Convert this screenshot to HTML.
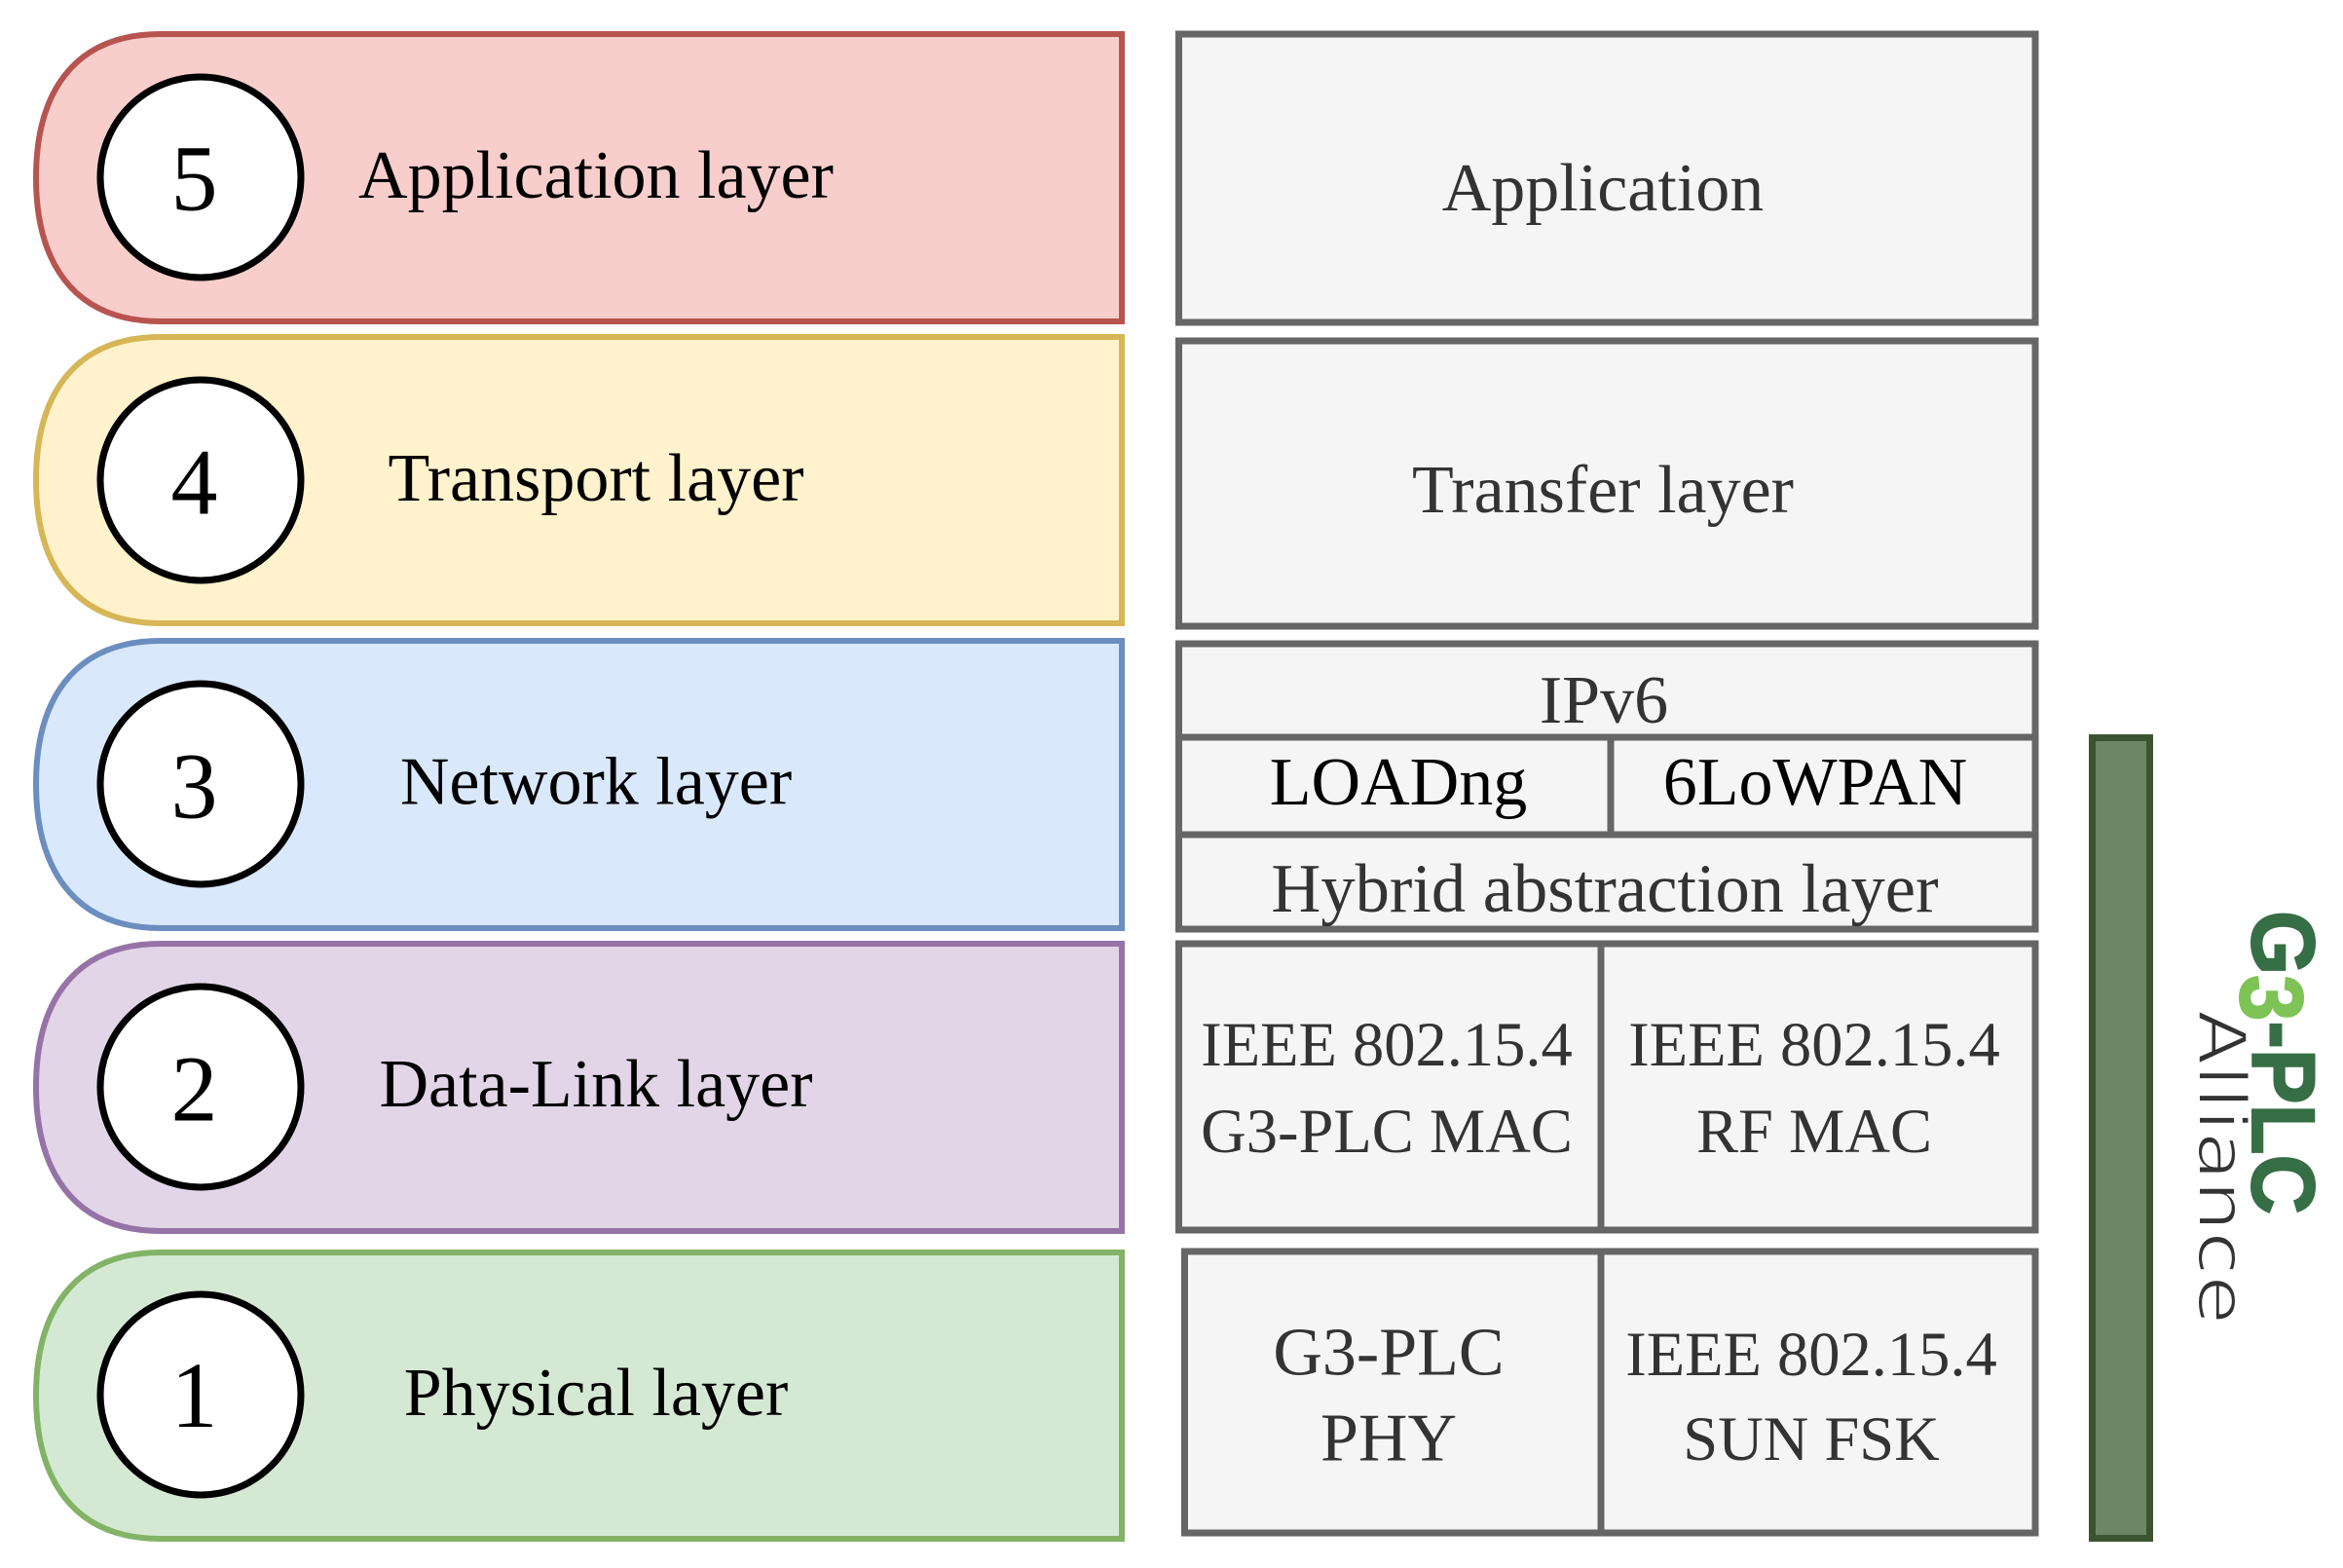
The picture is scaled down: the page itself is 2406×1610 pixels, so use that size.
<!DOCTYPE html>
<html><head><meta charset="utf-8">
<style>
html,body{margin:0;padding:0;background:#fff}
svg{display:block}
.s{font-family:"Liberation Serif",serif;font-size:70px;text-anchor:middle;fill:#000}
.g{fill:#333}
.i{font-size:64px}
.n{font-size:96px}
</style></head><body>
<svg width="2406" height="1610" viewBox="0 0 2406 1610" xmlns="http://www.w3.org/2000/svg">
<g stroke-width="6">
<path d="M1152,35 L165,35 C72,35 37,100 37,182.500 C37,265 72,330 165,330 L1152,330 Z" fill="#f8cecc" stroke="#b85450"/>
<path d="M1152,346 L165,346 C72,346 37,411 37,493 C37,575 72,640 165,640 L1152,640 Z" fill="#fff2cc" stroke="#d6b656"/>
<path d="M1152,658 L165,658 C72,658 37,723 37,805 C37,887 72,953 165,953 L1152,953 Z" fill="#dae8fc" stroke="#6c8ebf"/>
<path d="M1152,969 L165,969 C72,969 37,1034 37,1116 C37,1198 72,1264 165,1264 L1152,1264 Z" fill="#e1d5e7" stroke="#9673a6"/>
<path d="M1152,1286 L165,1286 C72,1286 37,1351 37,1433 C37,1515 72,1580 165,1580 L1152,1580 Z" fill="#d5e8d4" stroke="#82b366"/>
</g>
<g fill="#fff" stroke="#000" stroke-width="7">
<circle cx="206" cy="182" r="103"/>
<circle cx="206" cy="493" r="103"/>
<circle cx="206" cy="805" r="103"/>
<circle cx="206" cy="1116" r="103"/>
<circle cx="206" cy="1432" r="103"/>
</g>
<g class="s">
<text class="s n" x="199.500" y="215.500">5</text>
<text class="s n" x="199.500" y="527.500">4</text>
<text class="s n" x="199.500" y="839.500">3</text>
<text class="s n" x="199.500" y="1150.500">2</text>
<text class="s n" x="199.500" y="1465">1</text>
<text class="s" x="612" y="203">Application layer</text>
<text class="s" x="612" y="514">Transport layer</text>
<text class="s" x="612" y="825.500">Network layer</text>
<text class="s" x="612" y="1136">Data-Link layer</text>
<text class="s" x="612" y="1453">Physical layer</text>
</g>
<g fill="#f5f5f5" stroke="#666" stroke-width="7">
<rect x="1210.500" y="35" width="879.500" height="296"/>
<rect x="1210.500" y="350" width="879.500" height="293"/>
<rect x="1210.500" y="661" width="879.500" height="293"/>
<path d="M1210.500,757 H2090 M1210.500,857 H2090 M1654,757 V857" fill="none"/>
<rect x="1210.500" y="969" width="879.500" height="294"/>
<path d="M1644,969 V1263" fill="none"/>
<rect x="1216.500" y="1285" width="873.500" height="289"/>
<path d="M1644,1285 V1574" fill="none"/>
</g>
<text class="s g" x="1646" y="216">Application</text>
<text class="s g" x="1646" y="526">Transfer layer</text>
<text class="s g" x="1647" y="742">IPv6</text>
<text class="s" x="1436" y="826">LOADng</text>
<text class="s" x="1864" y="826">6LoWPAN</text>
<text class="s g" x="1648" y="936" style="font-size:70.500px">Hybrid abstraction layer</text>
<text class="s g i" x="1424" y="1094" style="font-size:64.500px">IEEE 802.15.4</text>
<text class="s g i" x="1424" y="1183" style="font-size:64.500px">G3-PLC MAC</text>
<text class="s g i" x="1863" y="1094" style="font-size:64.500px">IEEE 802.15.4</text>
<text class="s g i" x="1863" y="1183" style="font-size:64.500px">RF MAC</text>
<text class="s g" x="1426" y="1411.500" style="font-size:70px">G3-PLC</text>
<text class="s g" x="1426" y="1499.500" style="font-size:70px">PHY</text>
<text class="s g i" x="1860" y="1412" style="font-size:64.500px">IEEE 802.15.4</text>
<text class="s g i" x="1860" y="1499" style="font-size:64.500px">SUN FSK</text>
<rect x="2148.500" y="757.500" width="59" height="822" fill="#6d8764" stroke="#3a5431" stroke-width="7"/>
<g transform="translate(2313,935) rotate(90)" font-family="Liberation Sans,sans-serif" font-weight="bold" font-size="92" fill="#366e45" stroke="#366e45" stroke-width="2">
<text x="0" y="0" textLength="312" lengthAdjust="spacingAndGlyphs">G<tspan fill="#7dc356" stroke="#7dc356" dy="12">3</tspan><tspan dy="-12">-PLC</tspan></text>
</g>
<g transform="translate(2258,1037) rotate(90)" font-family="DejaVu Sans,sans-serif" font-size="68" fill="#333" stroke="#fff" stroke-width="2">
<text x="0" y="0" textLength="323" lengthAdjust="spacingAndGlyphs">Alliance</text>
</g>
</svg>
</body></html>
